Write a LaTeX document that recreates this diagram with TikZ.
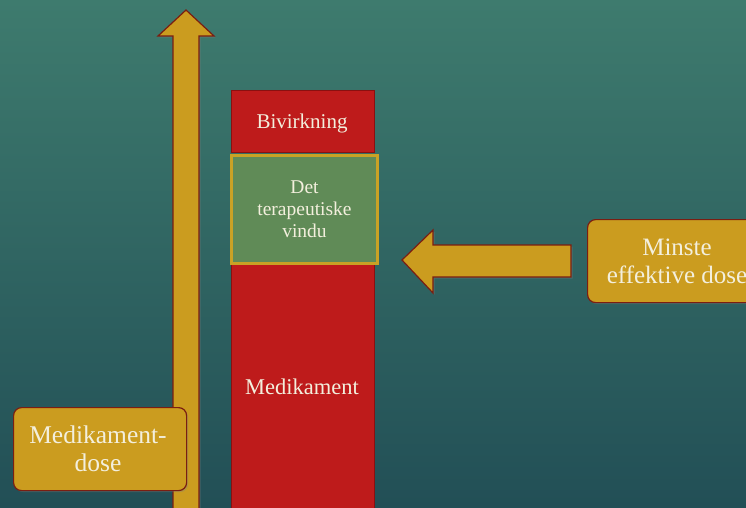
\documentclass[tikz,border=0pt]{standalone}
\usepackage{fontspec}
\setmainfont{Liberation Serif}
\usetikzlibrary{shadows}
\definecolor{bgtop}{HTML}{3E7B6E}
\definecolor{bgbot}{HTML}{224F56}
\definecolor{gold}{HTML}{CB9C1F}
\definecolor{goldedge}{HTML}{7A1E12}
\definecolor{redbox}{HTML}{BE1B1B}
\definecolor{rededge}{HTML}{8A1010}
\definecolor{greenbox}{HTML}{608B57}
\definecolor{greenedge}{HTML}{C9A225}
\definecolor{txt}{HTML}{F3EFDD}
\tikzset{
  shapearrow/.style={fill=gold, draw=goldedge, line width=1.2pt, line join=miter,
    drop shadow={shadow xshift=1.5pt, shadow yshift=-1.5pt, opacity=0.35}},
  goldbox/.style={fill=gold, draw=goldedge, line width=1.2pt, rounded corners=8pt,
    inner sep=0pt,
    drop shadow={shadow xshift=1.5pt, shadow yshift=-1.5pt, opacity=0.35}},
  redblock/.style={fill=redbox, draw=rededge, line width=0.8pt, text=txt, align=center,
    inner sep=0pt, font=\fontsize{21}{24}\selectfont},
  greenblock/.style={fill=greenbox, draw=greenedge, line width=3pt, text=txt, align=center,
    inner sep=0pt, font=\fontsize{19.5}{22}\selectfont},
  lbl/.style={text=txt, align=center, inner sep=0pt},
}
\begin{document}
\begin{tikzpicture}[x=1pt,y=-1pt]
\shade[top color=bgtop, bottom color=bgbot] (0,0) rectangle (746,507);
\useasboundingbox (0,0) rectangle (746,507);
% vertical up arrow
\coordinate (uptip) at (186,10);
\draw[shapearrow] (173,512) -- (173,36) -- (158,36) -- (uptip) -- (214,36) -- (199,36) -- (199,512) -- cycle;
% red blocks
\node[redblock, minimum width=143pt, minimum height=62pt, anchor=north west] (biv) at (231,90) {};
\node[lbl, font=\fontsize{21}{24}\selectfont] (bivtxt) at (302,123) {Bivirkning};
\node[redblock, minimum width=143pt, minimum height=250pt, anchor=north west] (med) at (231,264) {};
\node[lbl, font=\fontsize{22.5}{26}\selectfont] (medtxt) at (302,387) {Medikament};
\node[greenblock, minimum width=146pt, minimum height=108pt, anchor=north west] (vindu) at (230,154) {Det\\terapeutiske\\vindu};
% left arrow
\coordinate (lefttip) at (402,260);
\draw[shapearrow] (571,245) -- (433,245) -- (433,230) -- (lefttip) -- (433,293) -- (433,277) -- (571,277) -- cycle;
% gold boxes
\node[goldbox, minimum width=175pt, minimum height=83pt, anchor=north west] (minste) at (587,219) {};
\node[lbl, font=\fontsize{25}{28}\selectfont] (minstetxt) at (677,261) {Minste\\effektive dose};
\node[goldbox, minimum width=173pt, minimum height=83pt, anchor=north west] (dose) at (13,407) {};
\node[lbl, font=\fontsize{25.5}{28}\selectfont] (dosetxt) at (98,449) {Medikament-\\dose};
\end{tikzpicture}
\end{document}
